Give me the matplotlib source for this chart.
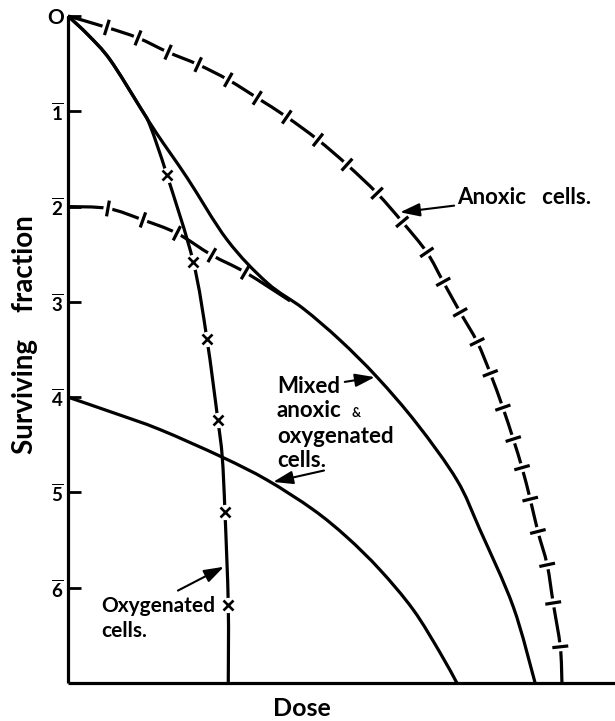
import numpy as np
import matplotlib.pyplot as plt
from matplotlib.path import Path
from matplotlib.patches import PathPatch

plt.rcParams['font.family'] = ['Lato', 'DejaVu Sans']
plt.rcParams['mathtext.fontset'] = 'custom'
plt.rcParams['mathtext.rm'] = 'Lato:bold'
plt.rcParams['mathtext.bf'] = 'Lato:bold'

# log10 surviving fraction against dose (arbitrary units)
anoxic_dose = [0.0, 0.71, 1.28, 1.83, 2.38, 2.93, 3.46, 4.00, 4.57, 5.10, 5.65, 6.11,
               6.56, 6.86, 7.17, 7.48, 7.72, 7.95, 8.14, 8.30, 8.45, 8.59, 8.76, 8.87,
               9.00, 9.03]
anoxic_logs = [0.0, -0.12, -0.23, -0.38, -0.51, -0.67, -0.86, -1.06, -1.30, -1.56, -1.86,
               -2.16, -2.48, -2.79, -3.11, -3.42, -3.75, -4.11, -4.44, -4.74, -5.07, -5.41,
               -5.76, -6.16, -6.62, -7.0]

# anoxic fraction of the mixed population (starts at 1 in 100)
shifted_dose = [0.0, 0.73, 1.37, 1.99, 2.63, 3.24, 4.06]
shifted_logs = [-2.0, -2.02, -2.14, -2.28, -2.51, -2.69, -2.99]

mixed_dose = [0.0, 0.37, 0.77, 1.32, 1.63, 2.18, 2.91, 3.64, 4.30, 4.97, 5.65, 6.38,
              7.11, 7.53, 8.14, 8.54]
mixed_logs = [0.0, -0.20, -0.46, -0.96, -1.24, -1.70, -2.35, -2.80, -3.07, -3.40, -3.79,
              -4.28, -4.87, -5.39, -6.20, -7.0]

oxy_dose = [0.0, 0.37, 0.77, 1.32, 1.50, 1.81, 2.29, 2.54, 2.74, 2.82, 2.87, 2.93, 2.93]
oxy_logs = [0.0, -0.20, -0.46, -0.96, -1.15, -1.67, -2.58, -3.39, -4.24, -4.63, -5.21,
            -6.18, -7.0]
oxy_pts_dose = [1.81, 2.29, 2.54, 2.74, 2.87, 2.93]
oxy_pts_logs = [-1.67, -2.58, -3.39, -4.24, -5.21, -6.18]

low_dose = [0.0, 0.86, 1.68, 2.82, 3.64, 4.48, 5.10, 5.70, 6.31, 6.80, 7.11]
low_logs = [-4.0, -4.17, -4.34, -4.63, -4.87, -5.18, -5.47, -5.81, -6.23, -6.68, -7.0]

ytick_vals = [0, -1, -2, -3, -4, -5, -6]
ytick_text = ['O'] + [r'$\overline{\mathbf{%d}}$' % k for k in range(1, 7)]

W, H = 615, 721
fig = plt.figure(figsize=(W / 100, H / 100), dpi=100)
ax = fig.add_axes([68 / W, (H - 683) / H, (W - 68) / W, (683 - 16) / H])
ax.set_xlim(0, 10)
ax.set_ylim(-7.0, 0)
ax.set_facecolor('none')

for side in ['top', 'right']:
    ax.spines[side].set_visible(False)
for side in ['left', 'bottom']:
    ax.spines[side].set_linewidth(2.3)
    ax.spines[side].set_capstyle('butt')

ax.set_xticks([])
ax.set_yticks(ytick_vals)
ax.set_yticklabels(ytick_text)
ax.tick_params(axis='y', direction='in', length=9, width=2.0, pad=3, labelsize=13.5)
for t in ax.get_yticklabels():
    t.set_fontweight('bold')
ax.get_yticklabels()[0].set_fontsize(15)

lw = 2.3
to_pix = ax.transData.transform
to_data = ax.transData.inverted().transform


def smooth(d, s, **kw):
    # Catmull-Rom curve through the points, built in screen space
    p = to_pix(np.column_stack([d, s]))
    q = np.vstack([p[0], p, p[-1]])
    verts, codes = [p[0]], [Path.MOVETO]
    for i in range(1, len(q) - 2):
        c1 = q[i] + (q[i + 1] - q[i - 1]) / 6
        c2 = q[i + 1] - (q[i + 2] - q[i]) / 6
        verts += [c1, c2, q[i + 1]]
        codes += [Path.CURVE4] * 3
    path = Path(to_data(np.array(verts)), codes)
    ax.add_patch(PathPatch(path, fill=False, ec='k', lw=lw, capstyle='butt',
                           clip_on=False, **kw))
    return p


def crossed_line(d, s, half_bar=8, half_gap=4.5):
    # dashed curve: solid line broken at each point, with a cross bar there
    pix = smooth(d, s)
    for i in range(1, len(d) - 1):
        t = pix[i + 1] - pix[i - 1]
        t = t / np.hypot(*t)
        n = np.array([-t[1], t[0]])
        g = to_data([pix[i] - t * half_gap, pix[i] + t * half_gap])
        ax.plot(g[:, 0], g[:, 1], color='white', lw=lw + 2, solid_capstyle='butt', zorder=3)
        b = to_data([pix[i] - n * half_bar, pix[i] + n * half_bar])
        ax.plot(b[:, 0], b[:, 1], color='k', lw=lw, solid_capstyle='butt', zorder=4)


crossed_line(anoxic_dose, anoxic_logs)
crossed_line(shifted_dose, shifted_logs)

smooth(mixed_dose, mixed_logs)
smooth(low_dose, low_logs)
smooth(oxy_dose, oxy_logs)
ax.plot(oxy_pts_dose, oxy_pts_logs, ls='none', marker='o', ms=11, mfc='white', mec='none', zorder=3)
ax.plot(oxy_pts_dose, oxy_pts_logs, ls='none', marker='x', ms=7, mew=1.9, color='k', zorder=4)

arrow = dict(arrowstyle='-|>,head_length=0.75,head_width=0.25', lw=1.5, color='k',
             mutation_scale=16, shrinkA=0, shrinkB=0)
fs = 16
fw = 'bold'

ax.annotate('Anoxic   cells.', xy=(6.07, -2.06), xytext=(7.11, -1.90), fontsize=fs,
            fontweight=fw, ha='left', va='center', arrowprops=arrow)

ax.text(3.82, -3.956, 'Mixed', fontsize=fs, fontweight=fw, ha='left', va='baseline')
ax.text(3.82, -4.208, 'anoxic', fontsize=fs, fontweight=fw, ha='left', va='baseline')
ax.text(5.19, -4.208, '&', fontsize=9, fontweight='bold', ha='left', va='baseline')
ax.text(3.82, -4.481, 'oxygenated', fontsize=fs, fontweight=fw, ha='left', va='baseline')
ax.text(3.82, -4.732, 'cells.', fontsize=fs, fontweight=fw, ha='left', va='baseline')
ax.annotate('', xy=(5.61, -3.79), xytext=(5.06, -3.84), arrowprops=arrow)
ax.annotate('', xy=(3.75, -4.89), xytext=(4.68, -4.77), arrowprops=arrow)

ax.text(0.61, -6.254, 'Oxygenated', fontsize=15, fontweight=fw, ha='left', va='baseline')
ax.text(0.61, -6.516, 'cells.', fontsize=15, fontweight=fw, ha='left', va='baseline')
ax.annotate('', xy=(2.85, -5.78), xytext=(2.01, -6.03), arrowprops=arrow)

fig.text(25 / W, 1 - 335 / H, 'Surviving    fraction', rotation=90, fontsize=20,
         fontweight='bold', ha='center', va='center')
fig.text(302 / W, 1 - 709 / H, 'Dose', fontsize=18, fontweight='bold',
         ha='center', va='center')

fig.savefig('out.png', dpi=100)
